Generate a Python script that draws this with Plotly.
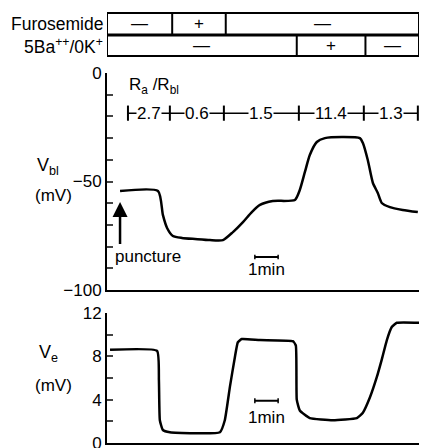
import plotly.graph_objects as go

# ---- data (time in minutes, voltages in mV) ----
vbl_t = [0.56, 2.19, 2.40, 2.58, 2.83, 3.22, 3.78, 4.42, 4.98, 5.41, 5.84, 6.22, 6.57, 7.12,
         8.07, 8.28, 8.50, 8.71, 9.01, 9.36, 10.13, 10.86, 10.99, 11.20, 11.42, 11.63, 11.80,
         12.15, 12.70, 13.35]
vbl_v = [-54.4, -54.4, -65.4, -71.4, -75.1, -76.0, -76.5, -77.0, -77.0, -73.3, -68.7, -64.1,
         -60.8, -59.0, -58.5, -53.9, -45.6, -37.8, -31.8, -30.0, -29.5, -30.0, -32.3, -40.1,
         -50.7, -55.3, -59.9, -61.8, -63.1, -64.1]

ve_t = [0.13, 2.15, 2.23, 2.27, 2.40, 2.70, 4.85, 5.06, 5.28, 5.49, 5.62, 5.79, 6.57, 7.98,
        8.11, 8.15, 8.28, 8.71, 9.70, 10.73, 10.99, 11.29, 11.59, 11.80, 12.02, 12.23, 12.45,
        13.43]
ve_v = [8.6, 8.5, 5.8, 2.1, 1.2, 1.0, 1.0, 2.1, 5.2, 7.9, 9.3, 9.6, 9.5, 9.4, 9.0, 4.0, 3.0,
        2.3, 2.1, 2.3, 2.8, 4.2, 6.1, 7.7, 9.5, 10.7, 11.1, 11.1]

furo_edges = [0, 2.8, 5.1, 13.4]
furo_states = ["—", "+", "—"]
ba_edges = [0, 8.15, 11.1, 13.4]
ba_states = ["—", "+", "—"]

ratio_edges = [0.9, 2.7, 5.02, 8.24, 11.03, 13.35]
ratio_values = ["2.7", "0.6", "1.5", "11.4", "1.3"]

top_ticks = [0, -50, -100]
top_ticktext = ["0", "−50", "−100"]
bot_ticks = [0, 4, 8, 12]
bot_ticktext = ["0", "4", "8", "12"]

puncture_t = 0.56
scale_t = [6.35, 7.35]

# ---- figure ----
W, H = 421, 448
FONT = "Liberation Sans, Arial, sans-serif"
X0 = 0.0
X1 = 13.4

def py(px):
    return 1 - px / H

fig = go.Figure()
fig.add_trace(go.Scatter(x=vbl_t, y=vbl_v, mode="lines", line=dict(color="black", width=2.5, shape="spline", smoothing=0.6),
                         xaxis="x", yaxis="y", showlegend=False, hoverinfo="skip"))
fig.add_trace(go.Scatter(x=ve_t, y=ve_v, mode="lines", line=dict(color="black", width=2.5, shape="spline", smoothing=0.4),
                         xaxis="x2", yaxis="y2", showlegend=False, hoverinfo="skip"))

xdom = [107 / W, 419 / W]
common_x = dict(range=[X0, X1], showline=True, linewidth=2, linecolor="black", showgrid=False,
                zeroline=False, showticklabels=False, ticks="", domain=xdom, automargin=False)
fig.update_layout(
    width=W, height=H, margin=dict(l=0, r=0, t=0, b=0, autoexpand=False),
    paper_bgcolor="white", plot_bgcolor="white",
    font=dict(family=FONT, size=17, color="black"),
    xaxis=dict(**common_x, anchor="y"),
    xaxis2=dict(**common_x, anchor="y2"),
    yaxis=dict(domain=[py(290), py(73)], range=[-100, 0], anchor="x", showline=True, linewidth=2,
               linecolor="black", showgrid=False, zeroline=False, ticks="inside", ticklen=6,
               tickwidth=2, tickvals=top_ticks, ticktext=top_ticktext, tickfont=dict(size=17),
               automargin=False, ticklabeloverflow="allow",
               minor=dict(dtick=10, ticks="inside", ticklen=6, tickwidth=2, showgrid=False)),
    yaxis2=dict(domain=[py(443), py(313)], range=[0, 12], anchor="x2", showline=True, linewidth=2,
                linecolor="black", showgrid=False, zeroline=False, ticks="inside", ticklen=6,
                tickwidth=2, tickvals=bot_ticks, ticktext=bot_ticktext, tickfont=dict(size=17),
                automargin=False, ticklabeloverflow="allow",
                minor=dict(dtick=2, ticks="inside", ticklen=6, tickwidth=2, showgrid=False)),
)

shapes = []
annotations = []

# treatment table
rows = [(furo_edges, furo_states, py(13), py(34.5)), (ba_edges, ba_states, py(35.5), py(56))]
for edges, states, ytop, ybot in rows:
    shapes.append(dict(type="rect", xref="x", yref="paper", x0=edges[0], x1=edges[-1], y0=ybot, y1=ytop,
                       line=dict(color="black", width=2)))
    for e in edges[1:-1]:
        shapes.append(dict(type="line", xref="x", yref="paper", x0=e, x1=e, y0=ybot, y1=ytop,
                           line=dict(color="black", width=2)))
    for i, s in enumerate(states):
        annotations.append(dict(x=(edges[i] + edges[i + 1]) / 2, y=(ytop + ybot) / 2, xref="x", yref="paper",
                                text=s, showarrow=False, font=dict(size=17), xanchor="center", yanchor="middle"))
annotations.append(dict(x=105 / W, y=py(24), xref="paper", yref="paper", text="Furosemide", showarrow=False,
                        xanchor="right", yanchor="middle", font=dict(size=17.5)))
annotations.append(dict(x=105 / W, y=py(46), xref="paper", yref="paper", text="5Ba<sup>++</sup>/0K<sup>+</sup>",
                        showarrow=False, xanchor="right", yanchor="middle", font=dict(size=17.5)))

# resistance ratio row
ry = -18.5
shapes.append(dict(type="line", xref="x", yref="y", x0=ratio_edges[0], x1=ratio_edges[-1], y0=ry, y1=ry,
                   line=dict(color="black", width=1.5)))
for e in ratio_edges:
    shapes.append(dict(type="line", xref="x", yref="y", x0=e, x1=e, y0=ry - 3.5, y1=ry + 3.5,
                       line=dict(color="black", width=2)))
for i, v in enumerate(ratio_values):
    annotations.append(dict(x=(ratio_edges[i] + ratio_edges[i + 1]) / 2, y=ry, xref="x", yref="y", text=v,
                            showarrow=False, bgcolor="white", borderpad=0, font=dict(size=17),
                            xanchor="center", yanchor="middle"))
annotations.append(dict(x=ratio_edges[0] - 0.05, y=-6, xref="x", yref="y", text="R<sub>a</sub> /R<sub>bl</sub>",
                        showarrow=False, xanchor="left", yanchor="middle", font=dict(size=17)))

# puncture arrow
annotations.append(dict(x=puncture_t, y=-59.5, ax=puncture_t, ay=-79.5, xref="x", yref="y", axref="x", ayref="y",
                        text="", showarrow=True, arrowhead=2, arrowsize=1.2, arrowwidth=2.5, arrowcolor="black"))
annotations.append(dict(x=0.25, y=-84.5, xref="x", yref="y", text="puncture", showarrow=False,
                        xanchor="left", yanchor="middle", font=dict(size=17)))

# scale bars
for xr, yr, ybar, ytxt, dy in [("x", "y", -84.8, -90.5, 1.0), ("x2", "y2", 3.9, 2.4, 0.22)]:
    shapes.append(dict(type="line", xref=xr, yref=yr, x0=scale_t[0], x1=scale_t[1], y0=ybar, y1=ybar,
                       line=dict(color="black", width=2)))
    for s in scale_t:
        shapes.append(dict(type="line", xref=xr, yref=yr, x0=s, x1=s, y0=ybar - dy, y1=ybar + dy,
                           line=dict(color="black", width=1.5)))
    annotations.append(dict(x=(scale_t[0] + scale_t[1]) / 2, y=ytxt, xref=xr, yref=yr, text="1min",
                            showarrow=False, xanchor="center", yanchor="middle", font=dict(size=17)))

# y labels
annotations += [
    dict(x=35 / W, y=py(166), xref="paper", yref="paper", text="V<sub>bl</sub>", showarrow=False, font=dict(size=18)),
    dict(x=33 / W, y=py(195), xref="paper", yref="paper", text="(mV)", showarrow=False, font=dict(size=17)),
    dict(x=37 / W, y=py(367), xref="paper", yref="paper", text="V<sub>e</sub>", showarrow=False, font=dict(size=18)),
    dict(x=33 / W, y=py(397), xref="paper", yref="paper", text="(mV)", showarrow=False, font=dict(size=17)),
]

fig.update_layout(shapes=shapes, annotations=annotations)
fig.write_html("out.html")
